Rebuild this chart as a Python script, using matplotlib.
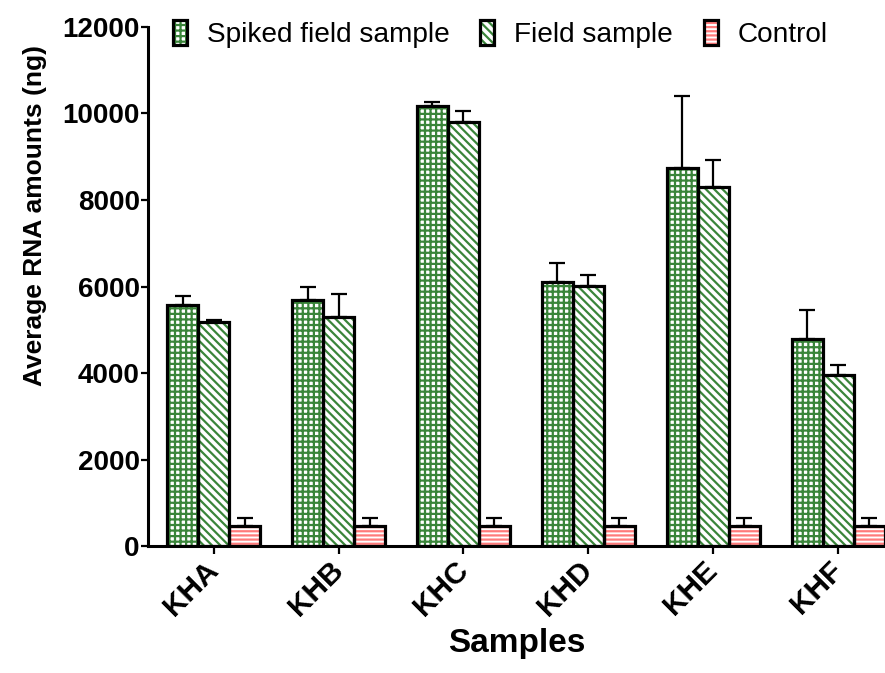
import numpy as np
import matplotlib
matplotlib.use('Agg')
import matplotlib.pyplot as plt
from matplotlib.patches import Patch

plt.rcParams['font.family'] = ['Liberation Sans', 'DejaVu Sans']
plt.rcParams['hatch.linewidth'] = 1.6

# data
samples = ['KHA', 'KHB', 'KHC', 'KHD', 'KHE', 'KHF']
spiked = [5570, 5690, 10160, 6110, 8740, 4780]
spiked_err = [210, 295, 95, 440, 1670, 680]
field = [5180, 5300, 9810, 6020, 8300, 3960]
field_err = [50, 520, 245, 245, 615, 230]
control = [460, 460, 460, 460, 460, 460]
control_err = [190, 190, 190, 190, 190, 190]

green = '#3a853a'
red = '#ff7a7a'

fig = plt.figure(figsize=(8.85, 6.73), dpi=100)
ax = fig.add_axes([0.1672, 0.1881, 0.8328, 0.7721])

x = np.arange(len(samples))
w = 0.248
series = [
    (spiked, spiked_err, '+++', green, 'Spiked field sample'),
    (field, field_err, '\\\\\\\\', green, 'Field sample'),
    (control, control_err, '----', red, 'Control'),
]

handles = []
for i, (vals, errs, hatch, col, lab) in enumerate(series):
    xs = x + (i - 1) * w
    # hatch layer (hatch takes the edge colour), then black outline on top
    ax.bar(xs, vals, w, color='white', edgecolor=col, hatch=hatch, linewidth=0, zorder=2)
    ax.bar(xs, vals, w, fill=False, edgecolor='black', linewidth=2.3, zorder=3)
    ax.errorbar(xs, vals, yerr=[np.zeros(len(vals)), errs], fmt='none', ecolor='black',
                elinewidth=1.6, capsize=6, capthick=1.6, zorder=4)
    h1 = Patch(facecolor='white', edgecolor=col, hatch=hatch, linewidth=0)
    h2 = Patch(fill=False, edgecolor='black', linewidth=2.3)
    handles.append((h1, h2))

ax.set_xlim(-0.526, 5.375)
ax.set_ylim(0, 12000)
ax.set_yticks(np.arange(0, 12001, 2000))
ax.set_xticks(x)
ax.set_xticklabels(samples, rotation=45, ha='right', va='center', rotation_mode='anchor',
                   fontsize=21.5, fontweight='bold')
for t in ax.get_yticklabels():
    t.set_fontsize(20)
    t.set_fontweight('bold')

ax.spines['top'].set_visible(False)
ax.spines['right'].set_visible(False)
ax.spines['left'].set_linewidth(2.2)
ax.spines['bottom'].set_linewidth(2.2)
ax.tick_params(axis='y', length=5, width=1.6, pad=1)
ax.tick_params(axis='x', length=6, width=1.6, pad=8)

ax.set_ylabel('Average RNA amounts (ng)', fontsize=19, fontweight='bold')
ax.yaxis.set_label_coords(-0.137, 0.636)
ax.set_xlabel('Samples', fontsize=24, fontweight='bold', labelpad=5)

labels = [s[4] for s in series]
fig.legend(handles, labels, loc='center left', bbox_to_anchor=(0.1955, 0.949),
           ncol=3, frameon=False, fontsize=20.2, handlelength=0.5, handleheight=1.0,
           handletextpad=0.7, columnspacing=1.1, borderpad=0, borderaxespad=0)

fig.savefig('out.png', dpi=100)
